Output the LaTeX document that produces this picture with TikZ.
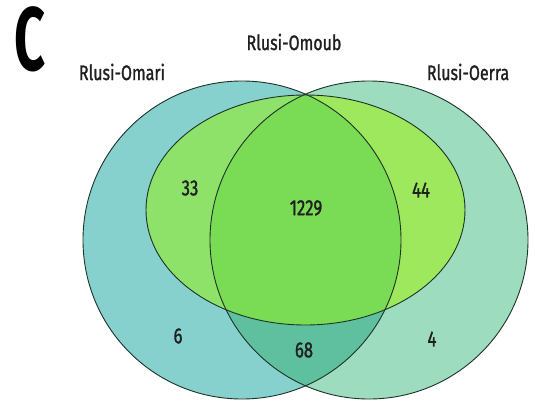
\documentclass[tikz,border=0pt]{standalone}
\usepackage{fontspec}
\setmainfont{Fira Sans}[FakeStretch=0.76, FakeBold=1.2]
\newfontfamily\cfont{Fira Sans}[FakeStretch=0.6]
\definecolor{cL}{HTML}{86D0CE}
\definecolor{cR}{HTML}{9DDCBF}
\definecolor{cLR}{HTML}{5FC0A0}
\definecolor{cEL}{HTML}{8EE26A}
\definecolor{cER}{HTML}{9DE85C}
\definecolor{cAll}{HTML}{7ADB55}
\definecolor{edge}{HTML}{1E3326}
\tikzset{
  setline/.style={draw=edge, line width=0.9pt},
  setlabel/.style={inner sep=0pt, font=\fontsize{21}{21}\selectfont, text=black!88},
  countlabel/.style={inner sep=0pt, font=\fontsize{22}{22}\selectfont, text=black!88},
}
\begin{document}
\begin{tikzpicture}[x=1pt,y=-1pt]
\useasboundingbox (0,0) rectangle (535,404);
\coordinate (Lc) at (242,240);
\coordinate (Rc) at (369,240);
\coordinate (Ec) at (305.5,210);
% base fills
\fill[cL] (Lc) circle[radius=159pt];
\fill[cR] (Rc) circle[radius=159pt];
\begin{scope}
  \clip (Lc) circle[radius=159pt];
  \fill[cLR] (Rc) circle[radius=159pt];
\end{scope}
\begin{scope}
  \clip (Ec) ellipse[x radius=159.5pt, y radius=115pt];
  \fill[cEL] (Lc) circle[radius=159pt];
  \fill[cER] (Rc) circle[radius=159pt];
  \clip (Lc) circle[radius=159pt];
  \fill[cAll] (Rc) circle[radius=159pt];
\end{scope}
% outlines
\draw[setline] (Lc) circle[radius=159pt];
\draw[setline] (Rc) circle[radius=159pt];
\draw[setline] (Ec) ellipse[x radius=159.5pt, y radius=115pt];
% labels
\node[inner sep=0pt, font=\cfont\bfseries\fontsize{90}{90}\selectfont] (panel) at (30,39) {C};
\node[setlabel] (nL) at (122,72) {Rlusi-Omari};
\node[setlabel] (nE) at (294,42) {Rlusi-Omoub};
\node[setlabel] (nR) at (468,72) {Rlusi-Oerra};
\node[countlabel] (n33) at (190,188) {33};
\node[countlabel] (n1229) at (306,208) {1229};
\node[countlabel] (n44) at (421,190) {44};
\node[countlabel] (n6) at (178,336) {6};
\node[countlabel] (n68) at (304,350) {68};
\node[countlabel] (n4) at (432,339) {4};
\end{tikzpicture}
\end{document}
